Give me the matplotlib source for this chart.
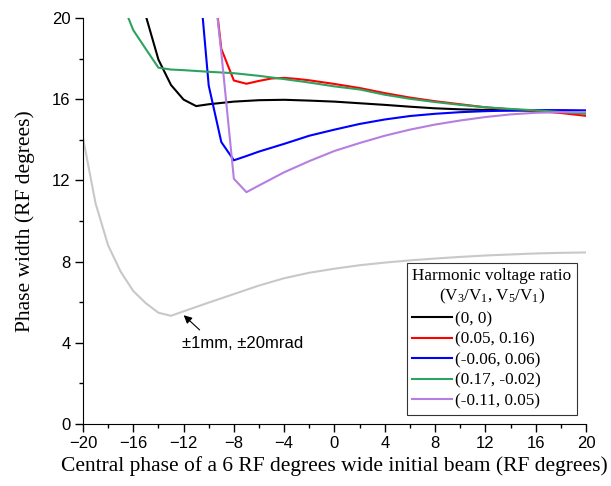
import numpy as np
import matplotlib
matplotlib.use("Agg")
from matplotlib import pyplot as plt
from matplotlib import font_manager

# Phase width vs central phase, for several harmonic voltage ratios
x_black = [-15, -14, -13, -12, -11, -10, -8, -6, -4, -2, 0, 2, 4, 6, 8, 10, 12, 14, 16, 18, 20]
y_black = [20.1, 17.95, 16.7, 15.98, 15.66, 15.75, 15.88, 15.95, 15.97, 15.93, 15.88, 15.8, 15.72,
           15.63, 15.55, 15.5, 15.47, 15.45, 15.44, 15.43, 15.41]

x_red = [-10, -9, -8, -7, -6, -5, -4, -3, -2, 0, 2, 4, 6, 8, 10, 12, 14, 16, 18, 20]
y_red = [24.0, 18.48, 16.92, 16.76, 16.9, 17.02, 17.05, 17.0, 16.93, 16.75, 16.55, 16.3, 16.08,
         15.9, 15.75, 15.6, 15.5, 15.42, 15.32, 15.18]

x_blue = [-11, -10, -9, -8, -7, -6, -4, -2, 0, 2, 4, 6, 8, 10, 12, 14, 16, 18, 20]
y_blue = [23.7, 16.67, 13.89, 12.99, 13.2, 13.42, 13.8, 14.2, 14.5, 14.78, 15.0, 15.17, 15.28,
          15.36, 15.41, 15.44, 15.46, 15.46, 15.45]

x_green = [-17, -16, -15, -14, -13, -12, -10, -8, -6, -4, -2, 0, 2, 4, 6, 8, 10, 12, 14, 16, 18, 20]
y_green = [20.95, 19.4, 18.47, 17.55, 17.46, 17.43, 17.35, 17.28, 17.15, 16.99, 16.82, 16.63,
           16.48, 16.22, 16.02, 15.86, 15.72, 15.6, 15.52, 15.45, 15.37, 15.28]

x_purple = [-10, -9, -8, -7, -6, -4, -2, 0, 2, 4, 6, 8, 10, 12, 14, 16, 18, 20]
y_purple = [24.0, 18.3, 12.08, 11.42, 11.75, 12.4, 12.95, 13.45, 13.84, 14.2, 14.5, 14.75, 14.95,
            15.12, 15.25, 15.33, 15.36, 15.37]

x_gray = [-20, -19, -18, -17, -16, -15, -14, -13, -12, -10, -8, -6, -4, -2, 0, 2, 4, 6, 8, 10,
          12, 14, 16, 18, 20]
y_gray = [14.1, 10.87, 8.8, 7.5, 6.55, 5.95, 5.48, 5.33, 5.55, 5.98, 6.4, 6.82, 7.18, 7.45, 7.65,
          7.82, 7.95, 8.06, 8.15, 8.23, 8.3, 8.35, 8.4, 8.43, 8.45]

labels = ["(0, 0)", "(0.05, 0.16)", "(-0.06, 0.06)", "(0.17, -0.02)", "(-0.11, 0.05)"]
colors = ["black", "#ff0000", "#0000ff", "#2ca35f", "#b57ee0"]

installed = {f.name for f in font_manager.fontManager.ttflist}
tick_font = "Liberation Sans Narrow" if "Liberation Sans Narrow" in installed else "Liberation Sans"

plt.rcParams["mathtext.fontset"] = "custom"
plt.rcParams["mathtext.rm"] = "Liberation Serif"
plt.rcParams["mathtext.it"] = "Liberation Serif"

fig = plt.figure(figsize=(6.11, 4.86), dpi=100)
ax = fig.add_axes([0.1358, 0.1276, 0.8232, 0.8354])

ax.plot(x_gray, y_gray, color="#c8c8c8", lw=1.5)
series = [(x_black, y_black), (x_red, y_red), (x_blue, y_blue), (x_green, y_green), (x_purple, y_purple)]
for (xs, ys), c, lab in zip(series, colors, labels):
    ax.plot(xs, ys, color=c, lw=1.5, label=lab)

ax.set_xlim(-20, 20)
ax.set_ylim(0, 20)
ax.set_xticks(np.arange(-20, 21, 4))
ax.set_xticks(np.arange(-20, 21, 2), minor=True)
ax.set_yticks(np.arange(0, 21, 4))
ax.set_yticks(np.arange(0, 21, 2), minor=True)
ax.tick_params(which="major", direction="out", length=6, width=1, pad=3)
ax.tick_params(which="minor", direction="out", length=3, width=1)
for lab in ax.get_xticklabels() + ax.get_yticklabels():
    lab.set_fontfamily(tick_font)
    lab.set_fontsize(12)
ax.spines["top"].set_visible(False)
ax.spines["right"].set_visible(False)

ax.set_xlabel("Central phase of a 6 RF degrees wide initial beam (RF degrees)",
              family="Liberation Serif", fontsize=15.5, labelpad=3)
ax.set_ylabel("Phase width (RF degrees)", family="Liberation Serif", fontsize=15.5, labelpad=12)

ax.annotate("", xy=(-12.15, 5.45), xytext=(-10.56, 4.54),
            arrowprops=dict(arrowstyle="-|>", color="black", lw=0.8, mutation_scale=12))
ax.text(-12.13, 3.98, "\u00b11mm, \u00b120mrad", family=tick_font, fontsize=12, va="center", ha="left")

leg = ax.legend(title="Harmonic voltage ratio\n(V$_3$/V$_1$, V$_5$/V$_1$)", loc="lower right",
                prop={"family": "Liberation Serif", "size": 12.3}, frameon=True, fancybox=False,
                edgecolor="black", handlelength=2.35, handletextpad=0.15, labelspacing=0.27,
                borderpad=0.3, borderaxespad=0.55, alignment="left")
leg.get_title().set_fontfamily("Liberation Serif")
leg.get_title().set_fontsize(12.3)
leg.get_title().set_multialignment("center")
leg.get_frame().set_linewidth(0.8)

fig.savefig("out.png", dpi=100)
